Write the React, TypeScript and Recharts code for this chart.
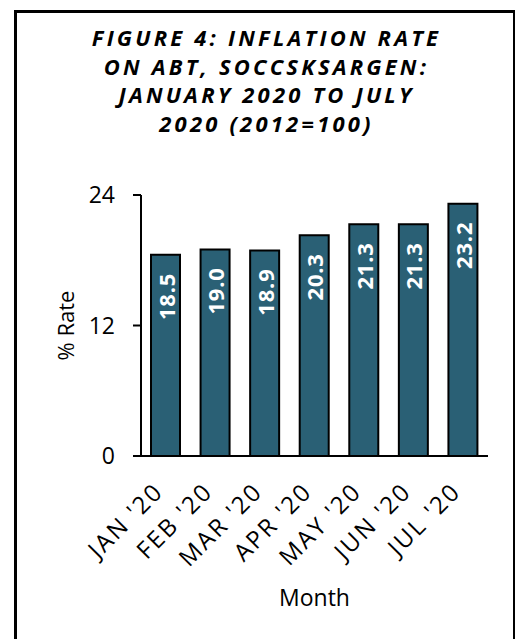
import { BarChart, Bar, XAxis, YAxis, LabelList, Label } from "recharts";

const months = ["JAN '20", "FEB '20", "MAR '20", "APR '20", "MAY '20", "JUN '20", "JUL '20"];
const rates = [18.5, 19.0, 18.9, 20.3, 21.3, 21.3, 23.2];
const yTicks = [0, 12, 24];
const titleLines = [
  "FIGURE 4: INFLATION RATE",
  "ON ABT, SOCCSKSARGEN:",
  "JANUARY 2020 TO JULY",
  "2020 (2012=100)",
];

const data = months.map((month, i) => ({ month, rate: rates[i] }));

const FONT = "'Open Sans', sans-serif";

const BarValue = (props: any) => {
  const { x, y, width, value } = props;
  const cx = x + width / 2;
  const ty = y + 18;
  return (
    <text
      x={cx}
      y={ty}
      transform={`rotate(-90 ${cx} ${ty})`}
      textAnchor="end"
      dominantBaseline="central"
      fill="#ffffff"
      fontFamily={FONT}
      fontWeight={700}
      fontSize={22}
      letterSpacing={0.8}
    >
      {Number(value).toFixed(1)}
    </text>
  );
};

// month labels slanted at 45 degrees, ending just under each bar
const MonthTick = (props: any) => {
  const { x, y, payload } = props;
  const tx = x - 1;
  const ty = y + 37;
  return (
    <text
      x={tx}
      y={ty}
      transform={`rotate(-45 ${tx} ${ty})`}
      textAnchor="end"
      fill="#000"
      fontFamily={FONT}
      fontSize={24}
      letterSpacing={2.2}
    >
      {payload.value}
    </text>
  );
};

const App = () => {
  return (
    <div style={{ position: "absolute", left: 0, top: 0, width: 517, height: 639, background: "#fff", overflow: "hidden" }}>
      <div
        style={{
          position: "absolute",
          left: 14,
          top: 10,
          width: 496,
          height: 640,
          borderLeft: "3px solid #000",
          borderTop: "3px solid #000",
          borderRight: "2px solid #000",
        }}
      />
      <div
        style={{
          position: "absolute",
          left: 16,
          top: 23,
          width: 501,
          textAlign: "center",
          fontFamily: FONT,
          fontWeight: 700,
          fontStyle: "italic",
          fontSize: 22,
          lineHeight: "28.5px",
          letterSpacing: 3.2,
          color: "#000",
        }}
      >
        {titleLines.map((t) => (
          <div key={t}>{t}</div>
        ))}
      </div>
      <div style={{ position: "absolute", left: 0, top: 0 }}>
        <BarChart
          width={517}
          height={639}
          data={data}
          margin={{ top: 195, right: 29, left: 61, bottom: 33 }}
        >
          <XAxis
            dataKey="month"
            height={150}
            interval={0}
            tickLine={false}
            tickSize={0}
            tickMargin={0}
            axisLine={{ stroke: "#000", strokeWidth: 2 }}
            tick={<MonthTick />}
          >
            <Label value="Month" position="insideBottom" offset={0} fill="#000" fontSize={23} fontFamily={FONT} />
          </XAxis>
          <YAxis
            width={80}
            domain={[0, 24]}
            ticks={yTicks}
            interval={0}
            tickSize={8}
            tickMargin={18}
            axisLine={{ stroke: "#000", strokeWidth: 2 }}
            tickLine={{ stroke: "#000", strokeWidth: 2 }}
            tick={{ fill: "#000", fontSize: 23, fontFamily: FONT }}
          >
            <Label
              value="% Rate"
              angle={-90}
              position="insideLeft"
              offset={5}
              fill="#000"
              fontSize={22}
              fontFamily={FONT}
              style={{ textAnchor: "middle" }}
            />
          </YAxis>
          <Bar dataKey="rate" fill="#2a6075" stroke="#000" strokeWidth={2} barSize={29} isAnimationActive={false}>
            <LabelList dataKey="rate" content={BarValue} />
          </Bar>
        </BarChart>
      </div>
    </div>
  );
};

export default App;
